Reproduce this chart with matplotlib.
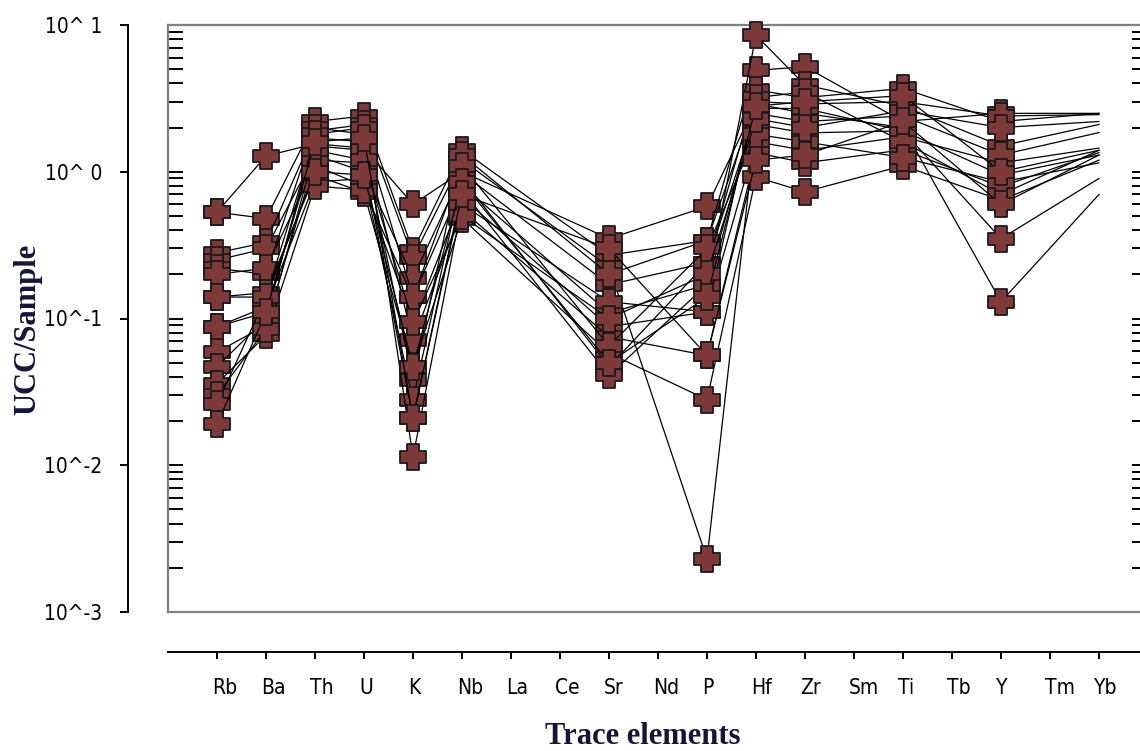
import numpy as np
import matplotlib
matplotlib.use("Agg")
import matplotlib.pyplot as plt
from matplotlib.path import Path
from matplotlib.transforms import ScaledTranslation, blended_transform_factory

# ---- data -------------------------------------------------------------
elements = ["Rb", "Ba", "Th", "U", "K", "Nb", "La", "Ce", "Sr", "Nd", "P",
            "Hf", "Zr", "Sm", "Ti", "Tb", "Y", "Tm", "Yb"]

# one value per sample (16 samples); elements without data are omitted
Rb = [0.53, 0.53, 0.28, 0.25, 0.22, 0.20, 0.14, 0.14, 0.088, 0.088, 0.059, 0.047, 0.036, 0.030, 0.026, 0.019]
Ba = [1.28, 0.48, 0.33, 0.30, 0.20, 0.22, 0.14, 0.15, 0.11, 0.12, 0.09, 0.10, 0.077, 0.085, 0.14, 0.11]
Th = [1.55, 2.2, 1.9, 1.3, 2.0, 1.1, 1.7, 0.95, 1.5, 0.85, 1.2, 1.8, 0.8, 1.4, 1.0, 1.6]
U  = [1.45, 2.4, 2.1, 1.0, 1.8, 0.8, 1.6, 0.72, 1.4, 0.9, 1.15, 2.0, 0.75, 1.2, 0.95, 1.7]
K  = [0.60, 0.29, 0.26, 0.19, 0.14, 0.094, 0.071, 0.047, 0.038, 0.028, 0.021, 0.0114, 0.14, 0.094, 0.047, 0.021]
Nb = [1.0, 1.41, 1.2, 0.98, 0.81, 0.67, 0.55, 0.48, 1.3, 0.9, 0.75, 0.6, 1.1, 0.5, 0.85, 0.7]
Sr = [0.35, 0.27, 0.225, 0.17, 0.109, 0.088, 0.075, 0.058, 0.20, 0.047, 0.041, 0.13, 0.065, 0.10, 0.05, 0.30]
P  = [0.58, 0.34, 0.0023, 0.24, 0.17, 0.111, 0.056, 0.028, 0.34, 0.24, 0.17, 0.111, 0.30, 0.20, 0.14, 0.056]
Hf = [2.9, 4.9, 2.1, 3.6, 8.5, 1.6, 1.35, 0.92, 3.0, 2.5, 2.7, 3.2, 1.8, 2.3, 2.8, 1.2]
Zr = [2.5, 5.2, 1.84, 3.2, 3.9, 1.4, 1.15, 0.73, 2.9, 2.2, 2.7, 3.5, 1.6, 2.0, 3.0, 1.3]
Ti = [2.0, 2.2, 1.9, 3.7, 2.8, 1.73, 1.41, 1.1, 3.0, 2.4, 1.9, 1.6, 1.25, 2.6, 3.3, 2.2]
Y  = [0.13, 2.5, 0.35, 2.2, 1.5, 1.15, 0.79, 0.64, 2.4, 1.3, 0.95, 0.7, 0.85, 2.0, 1.0, 0.6]
Yb = [0.70, 2.5, 0.90, 2.5, 2.1, 1.45, 1.35, 1.2, 2.45, 1.85, 1.3, 1.4, 1.15, 2.2, 1.4, 1.3]

measured = {"Rb": Rb, "Ba": Ba, "Th": Th, "U": U, "K": K, "Nb": Nb, "Sr": Sr,
            "P": P, "Hf": Hf, "Zr": Zr, "Ti": Ti, "Y": Y, "Yb": Yb}

ytick_vals = [1e-3, 1e-2, 1e-1, 1e0, 1e1]
ytick_labels = ["10^-3", "10^-2", "10^-1", "10^ 0", "10^ 1"]

# ---- style ------------------------------------------------------------
W, H, DPI = 1140, 751, 100
fig = plt.figure(figsize=(W / DPI, H / DPI), dpi=DPI)
fig.patch.set_facecolor("white")

box_l, box_r, box_t, box_b = 168, 1147, 25, 612
rect = [box_l / W, 1 - box_b / H, (box_r - box_l) / W, (box_b - box_t) / H]

tick_font = ["DejaVu Sans"]
title_font = ["Liberation Serif", "DejaVu Serif"]
tick_kw = dict(fontfamily=tick_font, fontsize=15, fontstretch="condensed")

# outer axis (separate left axis + separate bottom axis)
ax2 = fig.add_axes(rect)
ax2.set_facecolor("none")
ax2.set_yscale("log")
ax2.set_ylim(1e-3, 1e1)
ax2.set_xlim(-1, 18.98)
for s in ("top", "right"):
    ax2.spines[s].set_visible(False)
for s in ("left", "bottom"):
    ax2.spines[s].set_position(("outward", 40 * 72 / DPI))
    ax2.spines[s].set_color("black")
    ax2.spines[s].set_linewidth(1.4)
ax2.set_yticks(ytick_vals)
ax2.set_yticklabels(ytick_labels, **tick_kw)
ax2.yaxis.set_minor_locator(matplotlib.ticker.NullLocator())
ax2.tick_params(axis="y", which="major", direction="out", length=8 * 72 / DPI,
                width=1.4, pad=18 * 72 / DPI)
ax2.set_xticks(np.arange(len(elements)))
ax2.set_xticklabels([])
ax2.tick_params(axis="x", which="major", direction="out", length=7 * 72 / DPI,
                width=1.4)
trans = blended_transform_factory(ax2.transData, ax2.transAxes)
off = ScaledTranslation(-5 / DPI, -66 / DPI, fig.dpi_scale_trans)
for i, name in enumerate(elements):
    ax2.text(i, 0, name, transform=trans + off, ha="left", va="top",
             color="black", **tick_kw)

# inner box with data
ax = fig.add_axes(rect)
ax.set_facecolor("none")
ax.set_yscale("log")
ax.set_ylim(1e-3, 1e1)
ax.set_xlim(-1, 18.98)
for s in ax.spines.values():
    s.set_color("#808080")
    s.set_linewidth(1.6)
ax.tick_params(axis="x", which="both", length=0, labelbottom=False)
ax.yaxis.set_minor_locator(matplotlib.ticker.LogLocator(base=10, subs=np.arange(2, 10)))
ax.tick_params(axis="y", which="both", direction="in", length=15 * 72 / DPI,
               width=1.4, left=True, right=True, labelleft=False, labelright=False)

a = 0.25
plus_path = Path([(-a, -0.5), (a, -0.5), (a, -a), (0.5, -a), (0.5, a), (a, a),
                  (a, 0.5), (-a, 0.5), (-a, a), (-0.5, a), (-0.5, -a), (-a, -a),
                  (-a, -0.5)], closed=True)

idx = {e: i for i, e in enumerate(elements)}
cols = [e for e in elements if e in measured]
xs = np.array([idx[e] for e in cols])
n = len(Rb)
for k in range(n):
    ys = np.array([measured[e][k] for e in cols])
    ax.plot(xs, ys, "-", color="black", lw=0.9, marker=plus_path,
            markersize=18.5, markerfacecolor="#7E3939", markeredgecolor="#1a1a1a",
            markeredgewidth=1.3, markevery=list(range(len(xs) - 1)),
            clip_on=False, zorder=3)

fig.text(28 / W, 1 - 329 / H, "UCC/Sample", rotation=90, ha="center", va="center",
         fontfamily=title_font, fontweight="bold", fontsize=22, color="#15153a")
fig.text(643 / W, 1 - 744 / H, "Trace elements", ha="center", va="baseline",
         fontfamily=title_font, fontweight="bold", fontsize=22, color="#15153a")

fig.savefig("out.png", dpi=DPI)
